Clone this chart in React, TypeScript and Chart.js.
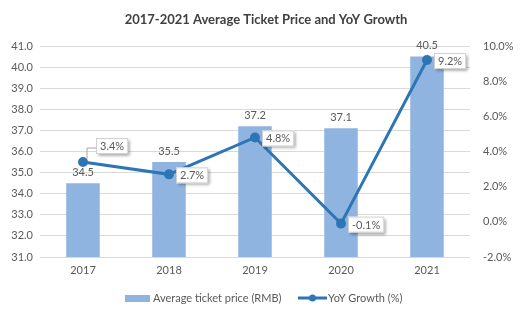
import React, { useEffect, useRef } from 'react';
import { Chart, registerables } from 'chart.js';

Chart.register(...registerables);

const years = ['2017', '2018', '2019', '2020', '2021'];
const avgPrice = [34.5, 35.5, 37.2, 37.1, 40.5];
const yoyGrowth = [3.4, 2.7, 4.8, -0.1, 9.2];
const titleText = '2017-2021 Average Ticket Price and YoY Growth';
const barLabel = 'Average ticket price (RMB)';
const lineLabel = 'YoY Growth (%)';

const FONT = 'Lato, "Open Sans", sans-serif';
const BAR_COLOR = '#8FB4E0';
const LINE_COLOR = '#2E75B6';
const TEXT_COLOR = '#595959';

const labelPlugin = {
  id: 'customLabels',
  afterDatasetsDraw(chart: any) {
    const ctx = chart.ctx as CanvasRenderingContext2D;
    const barMeta = chart.getDatasetMeta(0);
    const lineMeta = chart.getDatasetMeta(1);
    ctx.save();
    ctx.font = `11px ${FONT}`;
    ctx.textAlign = 'center';
    ctx.textBaseline = 'middle';
    ctx.fillStyle = TEXT_COLOR;
    barMeta.data.forEach((el: any, i: number) => {
      ctx.fillText(avgPrice[i].toFixed(1), el.x, el.y - 11);
    });
    lineMeta.data.forEach((el: any, i: number) => {
      const text = yoyGrowth[i].toFixed(1) + '%';
      const w = ctx.measureText(text).width + 8;
      const h = 16;
      let bx = el.x + 7;
      let by = el.y + 1 - h / 2;
      if (i === 0) {
        bx = el.x + 13;
        by = el.y - 16 - h / 2;
        ctx.strokeStyle = '#A6A6A6';
        ctx.lineWidth = 1;
        ctx.beginPath();
        ctx.moveTo(el.x + 4, el.y - 3);
        ctx.lineTo(el.x + 4, el.y - 14);
        ctx.lineTo(bx, el.y - 14);
        ctx.stroke();
      }
      ctx.save();
      ctx.shadowColor = 'rgba(0,0,0,0.4)';
      ctx.shadowBlur = 3;
      ctx.shadowOffsetX = 2;
      ctx.shadowOffsetY = 2;
      ctx.fillStyle = '#FFFFFF';
      ctx.fillRect(bx, by, w, h);
      ctx.restore();
      ctx.strokeStyle = '#D0D0D0';
      ctx.lineWidth = 1;
      ctx.strokeRect(bx + 0.5, by + 0.5, w - 1, h - 1);
      ctx.fillStyle = TEXT_COLOR;
      ctx.fillText(text, bx + w / 2, by + h / 2 + 0.5);
    });
    ctx.restore();
  },
  afterDraw(chart: any) {
    const ctx = chart.ctx as CanvasRenderingContext2D;
    ctx.save();
    // title
    ctx.font = `bold 13px ${FONT}`;
    ctx.fillStyle = '#404040';
    ctx.textAlign = 'center';
    ctx.textBaseline = 'middle';
    ctx.fillText(titleText, 266, 20);
    // legend
    const ly = 298;
    ctx.font = `11px ${FONT}`;
    ctx.textAlign = 'left';
    ctx.fillStyle = BAR_COLOR;
    ctx.fillRect(125, ly - 3, 25, 7);
    ctx.fillStyle = TEXT_COLOR;
    ctx.fillText(barLabel, 153, ly);
    ctx.strokeStyle = LINE_COLOR;
    ctx.lineWidth = 3;
    ctx.beginPath();
    ctx.moveTo(298, ly);
    ctx.lineTo(327, ly);
    ctx.stroke();
    ctx.fillStyle = LINE_COLOR;
    ctx.beginPath();
    ctx.arc(312.5, ly, 3.5, 0, Math.PI * 2);
    ctx.fill();
    ctx.fillStyle = TEXT_COLOR;
    ctx.fillText(lineLabel, 328, ly);
    ctx.restore();
  },
};

export default function App() {
  const canvasRef = useRef<HTMLCanvasElement | null>(null);

  useEffect(() => {
    document.body.style.margin = '0';
    const canvas = canvasRef.current;
    if (!canvas) return;
    const chart = new Chart(canvas, {
      data: {
        labels: years,
        datasets: [
          {
            type: 'bar',
            label: barLabel,
            data: avgPrice,
            backgroundColor: BAR_COLOR,
            yAxisID: 'y',
            order: 2,
            barPercentage: 0.39,
            categoryPercentage: 1,
          },
          {
            type: 'line',
            label: lineLabel,
            data: yoyGrowth,
            borderColor: LINE_COLOR,
            backgroundColor: LINE_COLOR,
            borderWidth: 3,
            pointRadius: 3.5,
            pointBackgroundColor: LINE_COLOR,
            pointBorderColor: LINE_COLOR,
            yAxisID: 'y1',
            order: 1,
            tension: 0,
          },
        ],
      } as any,
      options: {
        responsive: false,
        animation: false,
        devicePixelRatio: 1,
        layout: { padding: { top: 46, left: 0, right: 0, bottom: 44 } },
        plugins: {
          legend: { display: false },
          title: { display: false },
          tooltip: { enabled: false },
        },
        scales: {
          x: {
            offset: true,
            grid: { display: false, drawTicks: false },
            border: { display: false },
            ticks: { color: TEXT_COLOR, font: { size: 11, family: FONT }, padding: 7 },
            afterFit: (s: any) => { s.height = 20; },
          },
          y: {
            position: 'left',
            min: 31,
            max: 41,
            ticks: {
              stepSize: 1,
              color: TEXT_COLOR,
              font: { size: 11, family: FONT },
              padding: 7,
              callback: (v: any) => Number(v).toFixed(1),
            },
            grid: { color: '#D9D9D9', drawTicks: false },
            border: { display: false },
            afterFit: (s: any) => { s.width = 40; },
          },
          y1: {
            position: 'right',
            min: -2,
            max: 10,
            ticks: {
              stepSize: 2,
              color: TEXT_COLOR,
              font: { size: 11, family: FONT },
              padding: 13,
              callback: (v: any) => Number(v).toFixed(1) + '%',
            },
            grid: { display: false, drawTicks: false },
            border: { display: false },
            afterFit: (s: any) => { s.width = 50; },
          },
        },
      } as any,
      plugins: [labelPlugin],
    });
    return () => chart.destroy();
  }, []);

  return (
    <div style={{ width: 520, height: 321, background: '#fff' }}>
      <canvas ref={canvasRef} width={520} height={321} />
    </div>
  );
}
